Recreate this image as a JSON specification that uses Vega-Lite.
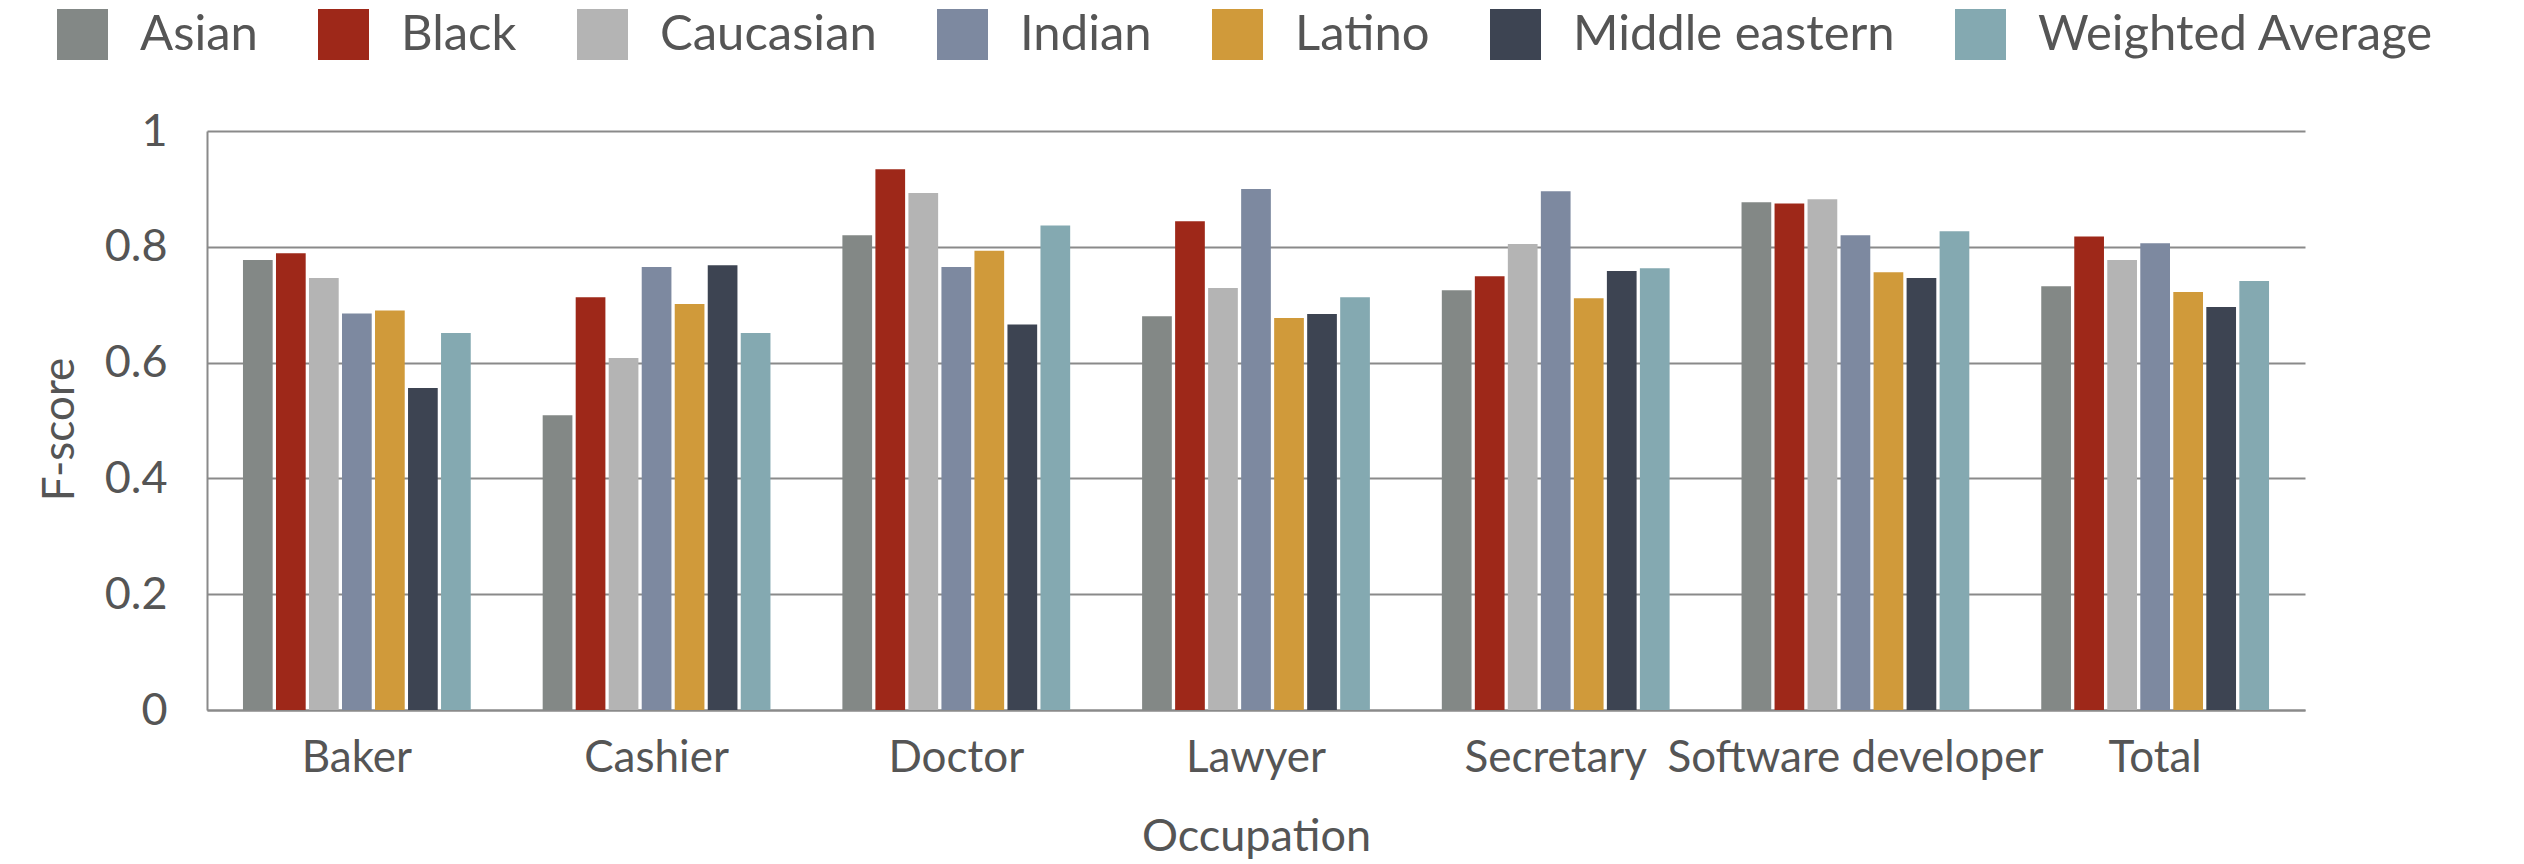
{
  "$schema": "https://vega.github.io/schema/vega-lite/v6.json",
  "width": 2098,
  "height": 579,
  "autosize": {"type": "none"},
  "padding": {"left": 207, "top": 131, "right": 219, "bottom": 154},
  "background": "white",
  "config": {
    "view": {"stroke": null},
    "font": "Lato",
    "axis": {"labelColor": "#555555", "titleColor": "#555555", "titleFontWeight": "normal"},
    "legend": {"labelColor": "#555555"}
  },
  "data": {
    "values": [
      {"Occupation": "Baker", "Group": "Asian", "F": 0.777},
      {"Occupation": "Baker", "Group": "Black", "F": 0.789},
      {"Occupation": "Baker", "Group": "Caucasian", "F": 0.746},
      {"Occupation": "Baker", "Group": "Indian", "F": 0.685},
      {"Occupation": "Baker", "Group": "Latino", "F": 0.690},
      {"Occupation": "Baker", "Group": "Middle eastern", "F": 0.556},
      {"Occupation": "Baker", "Group": "Weighted Average", "F": 0.651},
      {"Occupation": "Cashier", "Group": "Asian", "F": 0.509},
      {"Occupation": "Cashier", "Group": "Black", "F": 0.713},
      {"Occupation": "Cashier", "Group": "Caucasian", "F": 0.608},
      {"Occupation": "Cashier", "Group": "Indian", "F": 0.765},
      {"Occupation": "Cashier", "Group": "Latino", "F": 0.701},
      {"Occupation": "Cashier", "Group": "Middle eastern", "F": 0.768},
      {"Occupation": "Cashier", "Group": "Weighted Average", "F": 0.651},
      {"Occupation": "Doctor", "Group": "Asian", "F": 0.820},
      {"Occupation": "Doctor", "Group": "Black", "F": 0.934},
      {"Occupation": "Doctor", "Group": "Caucasian", "F": 0.893},
      {"Occupation": "Doctor", "Group": "Indian", "F": 0.765},
      {"Occupation": "Doctor", "Group": "Latino", "F": 0.793},
      {"Occupation": "Doctor", "Group": "Middle eastern", "F": 0.666},
      {"Occupation": "Doctor", "Group": "Weighted Average", "F": 0.837},
      {"Occupation": "Lawyer", "Group": "Asian", "F": 0.680},
      {"Occupation": "Lawyer", "Group": "Black", "F": 0.844},
      {"Occupation": "Lawyer", "Group": "Caucasian", "F": 0.729},
      {"Occupation": "Lawyer", "Group": "Indian", "F": 0.900},
      {"Occupation": "Lawyer", "Group": "Latino", "F": 0.677},
      {"Occupation": "Lawyer", "Group": "Middle eastern", "F": 0.684},
      {"Occupation": "Lawyer", "Group": "Weighted Average", "F": 0.713},
      {"Occupation": "Secretary", "Group": "Asian", "F": 0.725},
      {"Occupation": "Secretary", "Group": "Black", "F": 0.749},
      {"Occupation": "Secretary", "Group": "Caucasian", "F": 0.805},
      {"Occupation": "Secretary", "Group": "Indian", "F": 0.896},
      {"Occupation": "Secretary", "Group": "Latino", "F": 0.711},
      {"Occupation": "Secretary", "Group": "Middle eastern", "F": 0.758},
      {"Occupation": "Secretary", "Group": "Weighted Average", "F": 0.763},
      {"Occupation": "Software developer", "Group": "Asian", "F": 0.877},
      {"Occupation": "Software developer", "Group": "Black", "F": 0.875},
      {"Occupation": "Software developer", "Group": "Caucasian", "F": 0.882},
      {"Occupation": "Software developer", "Group": "Indian", "F": 0.820},
      {"Occupation": "Software developer", "Group": "Latino", "F": 0.756},
      {"Occupation": "Software developer", "Group": "Middle eastern", "F": 0.746},
      {"Occupation": "Software developer", "Group": "Weighted Average", "F": 0.827},
      {"Occupation": "Total", "Group": "Asian", "F": 0.732},
      {"Occupation": "Total", "Group": "Black", "F": 0.818},
      {"Occupation": "Total", "Group": "Caucasian", "F": 0.777},
      {"Occupation": "Total", "Group": "Indian", "F": 0.806},
      {"Occupation": "Total", "Group": "Latino", "F": 0.722},
      {"Occupation": "Total", "Group": "Middle eastern", "F": 0.696},
      {"Occupation": "Total", "Group": "Weighted Average", "F": 0.741}
    ]
  },
  "mark": {"type": "bar"},
  "encoding": {
    "x": {
      "field": "Occupation",
      "type": "nominal",
      "sort": null,
      "scale": {"paddingInner": 0.24, "paddingOuter": 0.12},
      "axis": {
        "labelAngle": 0,
        "labelFontSize": 44,
        "labelPadding": 26,
        "labelLimit": 0,
        "labelOverlap": false,
        "ticks": false,
        "domainColor": "#8a8a8a",
        "domainWidth": 2,
        "title": "Occupation",
        "titleFontSize": 45,
        "titlePadding": 34
      }
    },
    "xOffset": {
      "field": "Group",
      "type": "nominal",
      "sort": null,
      "scale": {"paddingInner": 0.1}
    },
    "y": {
      "field": "F",
      "type": "quantitative",
      "scale": {"domain": [0, 1]},
      "axis": {
        "values": [0, 0.2, 0.4, 0.6, 0.8, 1],
        "format": "~g",
        "labelFontSize": 45,
        "labelPadding": 40,
        "ticks": false,
        "domainColor": "#8a8a8a",
        "domainWidth": 2,
        "gridColor": "#8a8a8a",
        "gridWidth": 2,
        "title": "F-score",
        "titleFontSize": 44,
        "titleX": -147,
        "titleY": 298,
        "titleAngle": -90,
        "titleAlign": "center",
        "titleBaseline": "middle"
      }
    },
    "color": {
      "field": "Group",
      "type": "nominal",
      "sort": null,
      "scale": {
        "domain": ["Asian", "Black", "Caucasian", "Indian", "Latino", "Middle eastern", "Weighted Average"],
        "range": ["#838886", "#9e2819", "#b4b4b4", "#7d89a0", "#d09a3a", "#3d4452", "#84a9b1"]
      },
      "legend": {
        "title": null,
        "orient": "none",
        "direction": "horizontal",
        "legendX": -150,
        "legendY": -122,
        "symbolType": "square",
        "symbolSize": 2601,
        "symbolStrokeWidth": 0,
        "symbolOpacity": 1,
        "labelFontSize": 49,
        "labelOffset": 32,
        "columnPadding": 60,
        "labelLimit": 600
      }
    }
  }
}
